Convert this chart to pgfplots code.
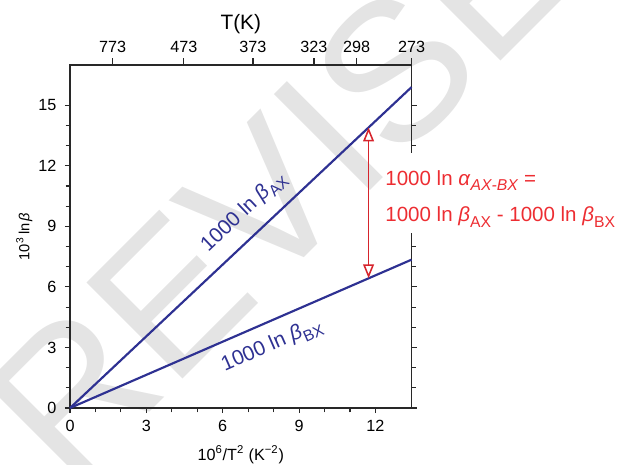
\documentclass[border=0pt]{standalone}
\usepackage{fontspec}
\setmainfont{Liberation Sans}
\usepackage{pgfplots}
\pgfplotsset{compat=1.18}
\usetikzlibrary{arrows.meta}

\definecolor{lineblue}{RGB}{46,49,146}
\definecolor{annred}{RGB}{237,45,50}
\definecolor{arrowred}{RGB}{214,36,44}
\definecolor{axisgray}{RGB}{40,40,40}
\definecolor{wmgray}{RGB}{228,228,228}

% lowered, smaller subscript in the text font
\newcommand{\sbs}[1]{\raisebox{-0.28em}{\fontsize{10.2}{11}\selectfont #1}}

\begin{document}
\begin{tikzpicture}
% background stamp
\node[wmgray, rotate=45, inner sep=0pt, font=\fontsize{128}{128}\selectfont] at (168pt,176pt) {REVISED};

% main axis: 10^6/T^2 against 10^3 ln beta
\begin{axis}[
  scale only axis, width=221.4pt, height=222.4pt,
  xmin=0, xmax=13.4176, ymin=0, ymax=17,
  xtick={0,3,6,9,12}, ytick={0,3,6,9,12,15},
  minor x tick num=2, minor y tick num=2,
  xtick pos=left, ytick pos=both, yticklabel pos=left,
  tick align=outside,
  major tick length=3.3pt, minor tick length=2.8pt,
  axis line style={axisgray, line width=0.75pt},
  every tick/.style={axisgray, line width=0.7pt},
  ticklabel style={font=\fontsize{10.5}{12}\selectfont},
  yticklabel style={xshift=-2pt},
  xticklabel style={yshift=-1pt},
  /pgf/number format/assume math mode=true,
  xlabel={10\textsuperscript{6}/T\textsuperscript{2} (K\textsuperscript{−2})},
  xlabel style={font=\fontsize{10.5}{12}\selectfont, yshift=-2.5pt},
  ylabel={10\textsuperscript{3}\,ln\,\textit{β}},
  ylabel style={font=\fontsize{9.5}{11}\selectfont, yshift=-3pt},
  clip=false,
]
\addplot[lineblue, line width=1.4pt] coordinates {(0,0) (13.4176,15.9)};
\addplot[lineblue, line width=1.4pt] coordinates {(0,0) (13.4176,7.35)};
\addplot[arrowred, line width=1pt,
  {Triangle[open,length=9pt,width=7pt]}-{Triangle[open,length=9pt,width=7pt]}]
  coordinates {(11.73,6.43) (11.73,13.9)};

\node[lineblue, rotate=43.4, font=\fontsize{13.5}{15}\selectfont]
  at (axis cs:6.84,9.7) {1000 ln \textit{β}\sbs{AX}};
\node[lineblue, rotate=23.6, font=\fontsize{13.5}{15}\selectfont]
  at (axis cs:7.94,3.08) {1000 ln \textit{β}\sbs{BX}};

\fill[white] (axis cs:12.3,8.66) rectangle (axis cs:13.9,12.62);
\node[annred, anchor=base west, inner sep=0pt, font=\fontsize{13.3}{15}\selectfont]
  at (axis cs:12.38,11.04) {1000 ln \textit{α}\sbs{\textit{AX-BX}} =};
\node[annred, anchor=base west, inner sep=0pt, font=\fontsize{13.3}{15}\selectfont]
  at (axis cs:12.38,9.22) {1000 ln \textit{β}\sbs{AX} - 1000 ln \textit{β}\sbs{BX}};
\end{axis}

% temperature scale along the top edge
\begin{axis}[
  scale only axis, width=221.4pt, height=222.4pt,
  xmin=0, xmax=13.4176, ymin=0, ymax=17,
  axis x line*=top, hide y axis,
  xtick={1.6736,4.4697,7.1876,9.5850,11.2607,13.4176},
  xticklabels={773,473,373,323,298,273},
  tick align=outside, major tick length=4.3pt,
  axis line style={axisgray, line width=0.75pt},
  every tick/.style={axisgray, line width=0.7pt},
  ticklabel style={font=\fontsize{10.5}{12}\selectfont},
  xlabel={T(K)},
  xlabel style={font=\fontsize{13.5}{15}\selectfont, yshift=-2pt},
]
\addplot[draw=none] coordinates {(0,0) (13.4176,17)};
\end{axis}

\pgfresetboundingbox
\path[use as bounding box] (-45.4pt,-36.95pt) rectangle ++(400pt,301.46pt);
\end{tikzpicture}
\end{document}
